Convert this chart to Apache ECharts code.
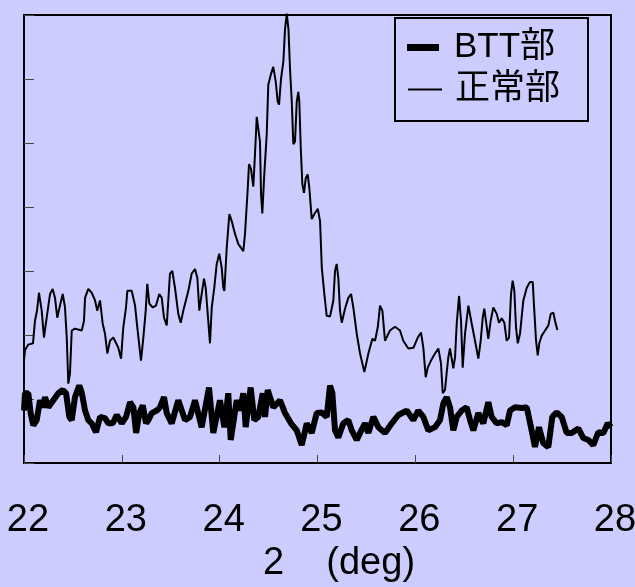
<!DOCTYPE html>
<html>
<head>
<meta charset="utf-8">
<script src="https://cdn.jsdelivr.net/npm/echarts@6/dist/echarts.min.js"></script>
<style>
  html, body { margin: 0; padding: 0; background: #ccccff; }
  #chart { width: 635px; height: 587px; }
</style>
</head>
<body>
<div id="chart"></div>
<script>
// x-axis ticks (2 theta, deg)
const xTicks = [22, 23, 24, 25, 26, 27, 28];

// 正常部 (thin line)
const normalX = [22.000, 22.010, 22.044, 22.092, 22.112, 22.133, 22.153, 22.181, 22.204, 22.232, 22.266, 22.293, 22.317, 22.340, 22.368, 22.396, 22.419, 22.437, 22.453, 22.470, 22.488, 22.521, 22.590, 22.613, 22.624, 22.657, 22.692, 22.726, 22.749, 22.777, 22.804, 22.828, 22.852, 22.879, 22.913, 22.964, 22.992, 23.015, 23.043, 23.056, 23.101, 23.135, 23.158, 23.196, 23.220, 23.244, 23.260, 23.281, 23.316, 23.349, 23.383, 23.408, 23.431, 23.459, 23.475, 23.492, 23.516, 23.543, 23.577, 23.602, 23.628, 23.680, 23.714, 23.748, 23.772, 23.792, 23.816, 23.840, 23.857, 23.878, 23.901, 23.919, 23.945, 23.970, 23.996, 24.021, 24.037, 24.048, 24.072, 24.099, 24.123, 24.157, 24.191, 24.242, 24.259, 24.287, 24.300, 24.320, 24.344, 24.361, 24.379, 24.395, 24.412, 24.423, 24.436, 24.456, 24.481, 24.497, 24.525, 24.548, 24.573, 24.593, 24.607, 24.627, 24.651, 24.668, 24.686, 24.703, 24.719, 24.737, 24.753, 24.770, 24.788, 24.804, 24.814, 24.829, 24.845, 24.862, 24.880, 24.900, 24.917, 24.941, 24.968, 25.003, 25.026, 25.044, 25.070, 25.094, 25.128, 25.162, 25.179, 25.196, 25.213, 25.230, 25.248, 25.281, 25.315, 25.343, 25.366, 25.401, 25.435, 25.479, 25.520, 25.561, 25.588, 25.616, 25.639, 25.663, 25.690, 25.708, 25.741, 25.792, 25.843, 25.877, 25.928, 25.980, 26.025, 26.058, 26.082, 26.106, 26.127, 26.160, 26.201, 26.235, 26.262, 26.280, 26.303, 26.321, 26.337, 26.354, 26.372, 26.388, 26.406, 26.423, 26.447, 26.467, 26.484, 26.508, 26.542, 26.576, 26.610, 26.644, 26.668, 26.689, 26.705, 26.722, 26.746, 26.770, 26.797, 26.832, 26.855, 26.883, 26.910, 26.934, 26.958, 26.978, 26.995, 27.012, 27.029, 27.047, 27.070, 27.104, 27.139, 27.172, 27.200, 27.216, 27.234, 27.251, 27.267, 27.292, 27.326, 27.360, 27.384, 27.411, 27.428, 27.452];
const normalY = [1.60, 1.76, 1.85, 1.87, 2.22, 2.38, 2.66, 2.38, 1.96, 2.27, 2.64, 2.72, 2.58, 2.27, 2.46, 2.64, 2.43, 1.96, 1.24, 1.40, 2.07, 2.10, 2.07, 2.22, 2.58, 2.72, 2.66, 2.54, 2.38, 2.54, 2.18, 2.02, 1.71, 1.91, 1.96, 1.80, 1.63, 2.12, 2.43, 2.69, 2.69, 2.46, 2.12, 1.60, 1.96, 2.38, 2.80, 2.49, 2.43, 2.46, 2.64, 2.58, 2.27, 2.15, 2.54, 2.96, 3.00, 2.74, 2.33, 2.19, 2.38, 2.69, 2.96, 3.03, 2.89, 2.38, 2.64, 2.88, 2.74, 2.33, 1.87, 2.43, 2.74, 3.11, 3.27, 3.05, 2.74, 2.69, 3.36, 3.89, 3.78, 3.58, 3.42, 3.31, 3.58, 4.29, 4.67, 4.60, 4.32, 4.82, 5.41, 5.44, 5.02, 4.20, 3.90, 4.51, 5.13, 5.91, 6.08, 6.19, 5.96, 5.65, 5.60, 6.00, 6.27, 6.78, 7.02, 6.78, 6.16, 5.65, 4.98, 5.02, 5.65, 5.80, 5.65, 4.92, 4.36, 4.22, 4.45, 4.51, 4.29, 3.81, 3.89, 3.97, 3.78, 3.05, 2.64, 2.30, 2.29, 2.54, 3.00, 3.11, 2.89, 2.38, 2.19, 2.41, 2.58, 2.64, 2.43, 2.02, 1.71, 1.42, 1.71, 1.94, 1.91, 2.12, 2.46, 2.38, 1.91, 1.88, 2.07, 2.13, 2.07, 1.91, 1.79, 1.80, 1.96, 2.04, 1.80, 1.34, 1.49, 1.60, 1.71, 1.79, 1.56, 1.09, 1.14, 1.42, 1.65, 1.79, 1.76, 1.48, 1.65, 2.18, 2.61, 2.22, 1.49, 2.02, 2.46, 2.18, 1.91, 1.63, 1.91, 2.27, 2.41, 2.22, 1.94, 2.22, 2.43, 2.33, 2.19, 2.26, 2.19, 1.91, 1.96, 2.64, 2.85, 2.69, 2.12, 1.87, 2.02, 2.54, 2.74, 2.83, 2.83, 2.38, 1.91, 1.68, 1.87, 1.99, 2.07, 2.15, 2.33, 2.35, 2.22, 2.08];

// BTT部 (thick line)
const bttX = [22.000, 22.010, 22.044, 22.068, 22.095, 22.130, 22.164, 22.191, 22.215, 22.249, 22.300, 22.351, 22.396, 22.430, 22.463, 22.488, 22.521, 22.565, 22.590, 22.624, 22.657, 22.692, 22.736, 22.777, 22.828, 22.862, 22.907, 22.948, 22.999, 23.043, 23.084, 23.118, 23.146, 23.179, 23.214, 23.247, 23.271, 23.306, 23.357, 23.390, 23.431, 23.459, 23.510, 23.577, 23.646, 23.697, 23.748, 23.816, 23.891, 23.935, 24.003, 24.048, 24.088, 24.113, 24.174, 24.208, 24.242, 24.266, 24.317, 24.354, 24.395, 24.440, 24.464, 24.491, 24.548, 24.617, 24.668, 24.729, 24.788, 24.839, 24.890, 24.941, 24.992, 25.044, 25.094, 25.128, 25.152, 25.179, 25.213, 25.264, 25.315, 25.350, 25.401, 25.435, 25.486, 25.520, 25.571, 25.622, 25.690, 25.759, 25.827, 25.912, 25.979, 26.030, 26.082, 26.133, 26.201, 26.252, 26.286, 26.321, 26.355, 26.388, 26.423, 26.474, 26.525, 26.559, 26.593, 26.644, 26.695, 26.746, 26.780, 26.832, 26.883, 26.934, 26.968, 27.019, 27.087, 27.139, 27.182, 27.223, 27.264, 27.308, 27.359, 27.400, 27.445, 27.496, 27.547, 27.598, 27.666, 27.717, 27.768, 27.819, 27.870, 27.922, 27.967, 28.000];
const bttY = [0.82, 1.09, 1.09, 0.78, 0.59, 0.67, 0.98, 0.87, 1.03, 0.87, 0.98, 1.09, 1.14, 1.09, 0.72, 0.67, 1.03, 1.21, 1.10, 0.82, 0.67, 0.62, 0.48, 0.72, 0.70, 0.62, 0.62, 0.75, 0.62, 0.72, 0.95, 0.87, 0.47, 0.78, 0.90, 0.62, 0.67, 0.78, 0.82, 0.87, 1.03, 0.78, 0.62, 0.98, 0.67, 0.72, 0.98, 0.56, 1.18, 0.47, 0.98, 0.56, 1.09, 0.36, 0.98, 0.82, 1.09, 0.56, 1.18, 0.67, 0.72, 1.09, 0.72, 1.14, 0.87, 0.98, 0.78, 0.62, 0.51, 0.28, 0.62, 0.47, 0.78, 0.79, 0.72, 1.21, 1.09, 0.51, 0.40, 0.62, 0.67, 0.51, 0.36, 0.47, 0.62, 0.47, 0.72, 0.56, 0.47, 0.62, 0.75, 0.82, 0.67, 0.82, 0.72, 0.51, 0.56, 0.67, 0.93, 1.03, 0.87, 0.51, 0.72, 0.82, 0.87, 0.67, 0.51, 0.78, 0.62, 0.95, 0.72, 0.62, 0.64, 0.59, 0.82, 0.87, 0.86, 0.87, 0.56, 0.25, 0.56, 0.31, 0.25, 0.72, 0.79, 0.72, 0.47, 0.47, 0.54, 0.39, 0.36, 0.28, 0.48, 0.47, 0.62, 0.56];

const seriesNames = ['BTT部', '正常部'];

const zip = (xs, ys) => xs.map((x, i) => [x, ys[i]]);

const chart = echarts.init(document.getElementById('chart'), null, { renderer: 'canvas' });

const sans = "'Liberation Sans', 'Noto Sans CJK JP', sans-serif";

chart.setOption({
    backgroundColor: '#ccccff',
    animation: false,
    grid: {
        left: 24, right: 24, top: 15, bottom: 124,
        outerBoundsMode: 'none',
        show: true, borderColor: '#000', borderWidth: 2, backgroundColor: 'transparent'
    },
    graphic: [{
        type: 'rect',
        z: 5,
        shape: { x: 395, y: 18, width: 193, height: 103 },
        style: { fill: '#ccccff', stroke: '#000', lineWidth: 2 }
    }],
    legend: [{
        data: [{ name: seriesNames[0], icon: 'rect' }],
        left: 407, top: 30,
        padding: 0,
        itemWidth: 32, itemHeight: 7,
        z: 10,
        textStyle: { fontFamily: sans, fontSize: 35, color: '#000', padding: [0, 0, 0, 10] }
    }, {
        data: [{ name: seriesNames[1], icon: 'rect' }],
        left: 408, top: 72,
        padding: 0,
        itemWidth: 34, itemHeight: 2,
        z: 10,
        textStyle: { fontFamily: sans, fontSize: 35, color: '#000', padding: [0, 0, 0, 8] }
    }],
    xAxis: {
        type: 'value',
        min: xTicks[0], max: xTicks[xTicks.length - 1], interval: 1,
        name: '2    (deg)',
        nameLocation: 'middle',
        nameGap: 82,
        nameTextStyle: { fontFamily: sans, fontSize: 38, color: '#000', padding: [0, 0, 0, 43] },
        axisLine: { show: true, lineStyle: { color: '#000', width: 2 } },
        axisTick: { show: true, inside: true, length: 8, lineStyle: { color: '#444', width: 1 } },
        axisLabel: { fontFamily: sans, fontSize: 38, color: '#000', margin: 39, padding: [0, 0, 0, 8] },
        splitLine: { show: false }
    },
    yAxis: {
        type: 'value',
        min: 0, max: 7, interval: 1,
        axisLine: { show: true, lineStyle: { color: '#000', width: 2 } },
        axisTick: { show: true, inside: true, length: 10, lineStyle: { color: '#444', width: 1 } },
        axisLabel: { show: false },
        splitLine: { show: false }
    },
    series: [{
        name: seriesNames[0],
        type: 'line',
        data: zip(bttX, bttY),
        symbol: 'none',
        clip: false,
        lineStyle: { color: '#000', width: 6 },
        itemStyle: { color: '#000' }
    }, {
        name: seriesNames[1],
        type: 'line',
        data: zip(normalX, normalY),
        symbol: 'none',
        clip: false,
        lineStyle: { color: '#000', width: 2 },
        itemStyle: { color: '#000' }
    }]
});
</script>
</body>
</html>
